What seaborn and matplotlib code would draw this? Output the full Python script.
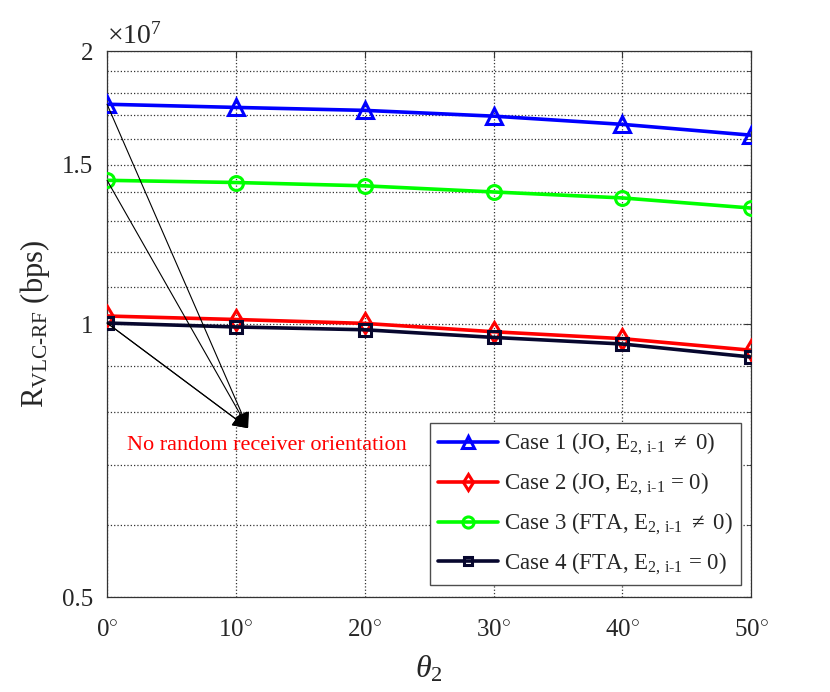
import numpy as np
import pandas as pd
import matplotlib
matplotlib.use('Agg')
import matplotlib.pyplot as plt
import seaborn as sns
from matplotlib.ticker import FixedLocator, NullFormatter

# values (bps)
theta_deg = [0, 10, 20, 30, 40, 50]
case1 = [1.748e7, 1.734e7, 1.721e7, 1.696e7, 1.661e7, 1.616e7]
case2 = [1.021e7, 1.012e7, 1.002e7, 0.981e7, 0.964e7, 0.936e7]
case3 = [1.441e7, 1.433e7, 1.421e7, 1.399e7, 1.378e7, 1.343e7]
case4 = [1.003e7, 0.993e7, 0.986e7, 0.967e7, 0.951e7, 0.920e7]

labels = [
    r'Case 1 (JO, E$_{\mathrm{2,\,i\text{-}1}}$ $\neq$ 0)',
    r'Case 2 (JO, E$_{\mathrm{2,\,i\text{-}1}}$ = 0)',
    r'Case 3 (FTA, E$_{\mathrm{2,\,i\text{-}1}}$ $\neq$ 0)',
    r'Case 4 (FTA, E$_{\mathrm{2,\,i\text{-}1}}$ = 0)',
]
colors = ['#0000ff', '#ff0000', '#00ff00', '#07072e']
markers = ['^', 'd', 'o', 's']
msizes = [11, 10, 10, 8]

y_major = [0.5e7, 1e7, 1.5e7, 2e7]
y_major_labels = ['0.5', '1', '1.5', '2']
y_minor = [0.6e7, 0.7e7, 0.8e7, 0.9e7, 1.1e7, 1.2e7, 1.3e7, 1.4e7,
           1.6e7, 1.7e7, 1.8e7, 1.9e7]

arrow_tip = (10.95, 0.768e7)
note_text = 'No random receiver orientation'
note_pos = (1.55, 0.735e7)

df = pd.DataFrame({'theta': theta_deg * 4,
                   'rate': case1 + case2 + case3 + case4,
                   'case': sum([[l] * len(theta_deg) for l in labels], [])})

sns.set_style('white')
plt.rcParams['font.family'] = ['Liberation Serif', 'DejaVu Serif']
plt.rcParams['mathtext.fontset'] = 'custom'
plt.rcParams['mathtext.rm'] = 'Liberation Serif'
plt.rcParams['mathtext.it'] = 'Liberation Serif:italic'
plt.rcParams['mathtext.bf'] = 'Liberation Serif:bold'

fig = plt.figure(figsize=(8.3, 6.92), dpi=100)
ax = fig.add_axes([0.129, 0.137, 0.776, 0.789])

for lab, c, m, ms in zip(labels, colors, markers, msizes):
    sns.lineplot(data=df[df['case'] == lab], x='theta', y='rate', ax=ax,
                 color=c, marker=m, markersize=ms, markerfacecolor='none',
                 markeredgecolor=c, markeredgewidth=2.2, linewidth=2.6,
                 label=lab, zorder=3)

ax.set_yscale('log')
ax.set_xlim(0, 50)
ax.set_ylim(0.5e7, 2e7)
ax.yaxis.set_major_locator(FixedLocator(y_major))
ax.yaxis.set_minor_locator(FixedLocator(y_minor))
ax.yaxis.set_minor_formatter(NullFormatter())
ax.set_yticklabels(y_major_labels)
ax.set_xticks(theta_deg)
ax.set_xticklabels([f'{t}$^{{\\circ}}$' for t in theta_deg])
ax.tick_params(axis='both', which='both', direction='in', top=True, right=True,
               labelsize=18, color='0.2')
ax.tick_params(axis='both', which='major', length=5)
ax.tick_params(axis='x', which='major', pad=16)
ax.tick_params(axis='y', which='major', pad=10)
ax.tick_params(axis='y', which='minor', length=3)

ax.grid(True, which='major', linestyle=':', color='0.2', linewidth=0.9)
ax.grid(True, which='minor', axis='y', linestyle=':', color='0.2', linewidth=0.9)
for s in ax.spines.values():
    s.set_color('0.2')
    s.set_linewidth(0.9)

ax.set_xlabel(r'$\theta_2$', fontsize=23, labelpad=9)
ax.set_ylabel(r'R$_{\mathrm{VLC\text{-}RF}}$ (bps)', fontsize=22, labelpad=7)
ax.text(0.0, 1.003, r'$\times10^{7}$', transform=ax.transAxes, fontsize=20,
        ha='left', va='bottom')

# arrows from the theta=0 points to the note
for vals in [case1, case3, case4, case4]:
    ax.annotate('', xy=arrow_tip, xytext=(theta_deg[0], vals[0]),
                arrowprops=dict(arrowstyle='-|>', color='k', lw=0.8,
                                mutation_scale=24, shrinkA=0, shrinkB=0),
                zorder=4)
ax.text(note_pos[0], note_pos[1], note_text, color='red', fontsize=16,
        ha='left', va='center')

leg = ax.legend(loc='lower right', bbox_to_anchor=(0.985, 0.022), fontsize=16.5,
                frameon=True, fancybox=False, framealpha=1, edgecolor='0.3',
                handlelength=2.6, borderpad=0.35, labelspacing=0.6,
                handletextpad=0.3, borderaxespad=0, markerscale=0.8)
leg.get_frame().set_linewidth(1.0)

fig.savefig('out.png', dpi=100)
